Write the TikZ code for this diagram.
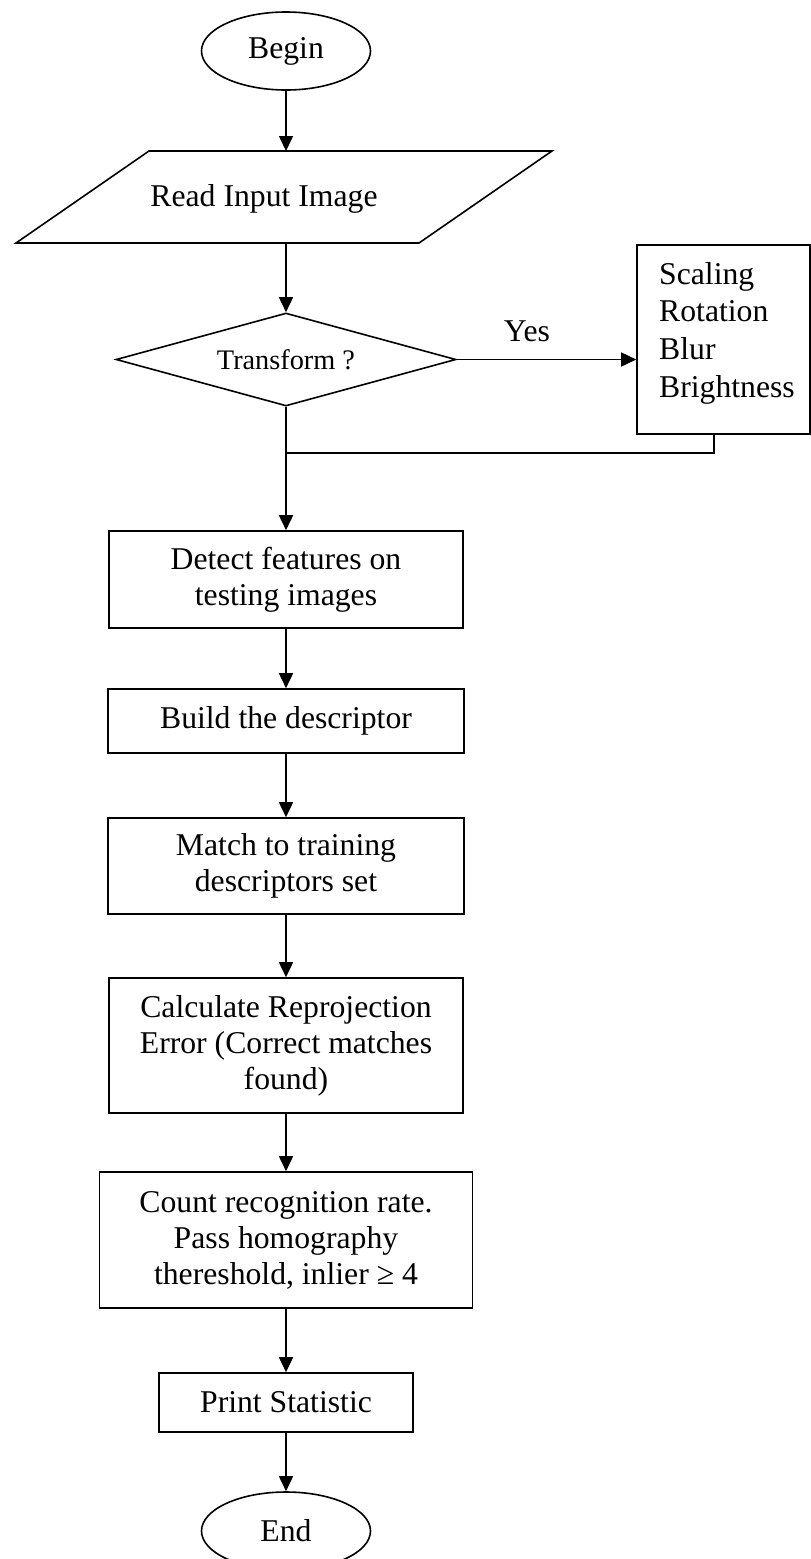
\documentclass[tikz,border=0pt]{standalone}
\usepackage{fontspec}
\setmainfont{Liberation Serif}
\usetikzlibrary{shapes.geometric,arrows.meta}
\begin{document}
\begin{tikzpicture}[x=1pt,y=-1pt,
  every node/.style={font=\fontsize{31.7}{36}\selectfont, inner sep=0pt},
  ln/.style={line width=1.6pt},
  arr/.style={ln, -{Triangle[length=15pt,width=14pt]}},
  procbox/.style={draw, ln, rectangle, align=center},
  term/.style={draw, ln, ellipse, minimum width=169pt, minimum height=78pt},
  decide/.style={draw, ln, diamond, aspect=3.66, minimum width=340pt, minimum height=93pt,
                 font=\fontsize{28.3}{32}\selectfont}
]
\useasboundingbox (0,0) rectangle (811,1559);

% Begin
\node[term] (begin) at (286,51) {Begin};

% Read Input Image (parallelogram)
\draw[ln] (149,151) -- (552,151) -- (419,243) -- (16,243) -- cycle;
\coordinate (readtop) at (286,151);
\coordinate (readbot) at (286,243);
\node (read) at (264,199) {Read Input Image};

% Decision
\node[decide] (dec) at (286,359.5) {Transform ?};

% Transform box
\node[draw, ln, rectangle, minimum width=173pt, minimum height=189pt] (trans) at (723.5,339.5) {};
\node[anchor=north west, align=left, font=\fontsize{31.7}{37.6}\selectfont] (translist) at (659,262)
  {Scaling\\Rotation\\Blur\\Brightness};
\node (yes) at (527,331) {Yes};

\coordinate (join) at (286,453);

% Process boxes
\node[procbox, minimum width=354pt, minimum height=97pt] (detect) at (286,579.5)
  {Detect features on\\testing images};
\node[procbox, minimum width=356pt, minimum height=64pt] (build) at (286,721)
  {Build the descriptor};
\node[procbox, minimum width=356pt, minimum height=96pt] (match) at (286,866)
  {Match to training\\descriptors set};
\node[procbox, minimum width=354pt, minimum height=135pt] (calc) at (286,1045.5)
  {Calculate Reprojection\\Error (Correct matches\\found)};
\node[procbox, minimum width=373pt, minimum height=136pt] (count) at (286,1240)
  {Count recognition rate.\\Pass homography\\thereshold, inlier ≥ 4};
\node[procbox, minimum width=254pt, minimum height=59pt] (print) at (286,1402.5)
  {Print Statistic};
\node[term] (end) at (286,1531) {End};

% Connectors
\draw[arr] (begin) -- (readtop);
\draw[arr] (readbot) -- (dec);
\draw[arr] (dec.east) -- (dec.east -| trans.west);
\draw[ln] ([xshift=-9.5pt]trans.south) |- (join);
\draw[arr] (dec) -- (detect);
\draw[arr] (detect) -- (build);
\draw[arr] (build) -- (match);
\draw[arr] (match) -- (calc);
\draw[arr] (calc) -- (count);
\draw[arr] (count) -- (print);
\draw[arr] (print) -- (end);
\end{tikzpicture}
\end{document}
